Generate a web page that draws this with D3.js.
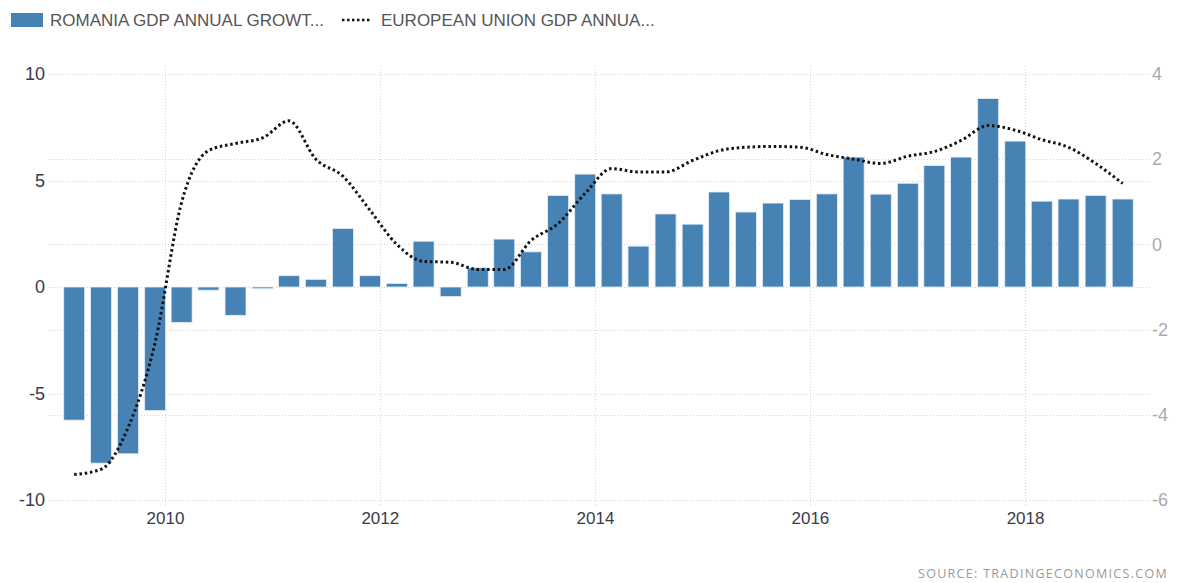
<!DOCTYPE html>
<html>
<head>
<meta charset="utf-8">
<script src="https://cdn.jsdelivr.net/npm/d3@7"></script>
<style>
  body { margin: 0; background: #fff; }
  svg { display: block; font-family: "Liberation Sans", Arial, sans-serif; }
</style>
</head>
<body>
<div id="chart"></div>
<script>
const width = 1178,
    height = 583;

// quarter end dates
const quarters = [
    "2009-03-31", "2009-06-30", "2009-09-30", "2009-12-31",
    "2010-03-31", "2010-06-30", "2010-09-30", "2010-12-31",
    "2011-03-31", "2011-06-30", "2011-09-30", "2011-12-31",
    "2012-03-31", "2012-06-30", "2012-09-30", "2012-12-31",
    "2013-03-31", "2013-06-30", "2013-09-30", "2013-12-31",
    "2014-03-31", "2014-06-30", "2014-09-30", "2014-12-31",
    "2015-03-31", "2015-06-30", "2015-09-30", "2015-12-31",
    "2016-03-31", "2016-06-30", "2016-09-30", "2016-12-31",
    "2017-03-31", "2017-06-30", "2017-09-30", "2017-12-31",
    "2018-03-31", "2018-06-30", "2018-09-30", "2018-12-31"
];

const romania = [
    -6.25, -8.27, -7.83, -5.8,
    -1.66, -0.15, -1.33, -0.08,
    0.53, 0.36, 2.75, 0.53,
    0.17, 2.15, -0.45, 0.9,
    2.25, 1.65, 4.3, 5.3,
    4.37, 1.92, 3.43, 2.95,
    4.46, 3.52, 3.94, 4.11,
    4.37, 6.1, 4.36, 4.87,
    5.7, 6.1, 8.85, 6.85,
    4.03, 4.13, 4.3, 4.13
];

const eu = [
    -5.4, -5.28, -4.3, -2.3,
    0.99, 2.2, 2.37, 2.5,
    2.9, 2.0, 1.6, 0.8,
    0.0, -0.4, -0.42, -0.59,
    -0.59, 0.09, 0.49, 1.2,
    1.78, 1.7, 1.7, 1.97,
    2.2, 2.28, 2.3, 2.28,
    2.11, 2.0, 1.9, 2.07,
    2.18, 2.44, 2.79, 2.68,
    2.46, 2.28, 1.9, 1.43
];

const leftTicks = [-10, -5, 0, 5, 10];
const rightTicks = [-6, -4, -2, 0, 2, 4];

const legendLabels = ["ROMANIA GDP ANNUAL GROWT...", "EUROPEAN UNION GDP ANNUA..."];
const sourceText = "SOURCE:  TRADINGECONOMICS.COM";

const parseDate = d3.timeParse("%Y-%m-%d");
const dates = quarters.map(parseDate);

const barColor = "#4682b4";
const barWidth = 21;

// plain hyphen for negatives, like the original
const plain = function(d) { return String(d) };

const x = d3.scaleTime()
    .domain([new Date(2009, 0, 1), new Date(2019, 0, 1)])
    .range([57.5, 1132.5]);

const yLeft = d3.scaleLinear()
    .domain([-10, 10])
    .range([500, 74]);

const yRight = d3.scaleLinear()
    .domain([-6, 4])
    .range([500, 74]);

const svg = d3.select("#chart")
    .append("svg")
    .attr("width", width)
    .attr("height", height);

// grid lines
const grid = svg.append("g")
    .attr("stroke", "#d4d4d4")
    .attr("stroke-width", 1)
    .attr("stroke-dasharray", "1,2");

grid.selectAll(null)
    .data(leftTicks)
    .join("line")
    .attr("x1", 48)
    .attr("x2", 1150)
    .attr("y1", function(d) { return Math.round(yLeft(d)) + 0.5 })
    .attr("y2", function(d) { return Math.round(yLeft(d)) + 0.5 });

grid.selectAll(null)
    .data(rightTicks)
    .join("line")
    .attr("x1", 48)
    .attr("x2", 1150)
    .attr("y1", function(d) { return Math.round(yRight(d)) + 0.5 })
    .attr("y2", function(d) { return Math.round(yRight(d)) + 0.5 });

const yearTicks = x.ticks(d3.timeYear.every(2));

grid.selectAll(null)
    .data(yearTicks)
    .join("line")
    .attr("x1", function(d) { return Math.round(x(d)) + 0.5 })
    .attr("x2", function(d) { return Math.round(x(d)) + 0.5 })
    .attr("y1", 66)
    .attr("y2", 506);

// bars
svg.append("g")
    .selectAll(null)
    .data(romania)
    .join("rect")
    .attr("x", function(d, i) { return x(dates[i]) + 1 - barWidth })
    .attr("width", barWidth)
    .attr("y", function(d) { return yLeft(Math.max(0, d)) })
    .attr("height", function(d) { return Math.abs(yLeft(d) - yLeft(0)) })
    .attr("fill", barColor)
    .attr("stroke", "#e6eef6")
    .attr("stroke-width", 0.8);

// EU line
const line = d3.line()
    .x(function(d, i) { return x(dates[i]) + 1 - barWidth / 2 })
    .y(function(d) { return yRight(d) })
    .curve(d3.curveMonotoneX);

svg.append("path")
    .datum(eu)
    .attr("d", line)
    .attr("fill", "none")
    .attr("stroke", "#111")
    .attr("stroke-width", 3)
    .attr("stroke-dasharray", "2.5,2.8");

// left axis
svg.append("g")
    .attr("transform", "translate(45,0)")
    .call(d3.axisLeft(yLeft).tickValues(leftTicks).tickFormat(plain).tickSize(0).tickPadding(0))
    .call(function(g) { g.select(".domain").remove() })
    .selectAll("text")
    .attr("font-size", 18)
    .attr("font-family", "Liberation Sans, Arial, sans-serif")
    .attr("fill", "#3a3a4a");

// right axis
svg.append("g")
    .attr("transform", "translate(1152,0)")
    .call(d3.axisRight(yRight).tickValues(rightTicks).tickFormat(plain).tickSize(0).tickPadding(0))
    .call(function(g) { g.select(".domain").remove() })
    .selectAll("text")
    .attr("font-size", 18)
    .attr("font-family", "Liberation Sans, Arial, sans-serif")
    .attr("fill", "#aaaaaa");

// x axis
svg.append("g")
    .attr("transform", "translate(0,512)")
    .call(d3.axisBottom(x).tickValues(yearTicks).tickFormat(d3.timeFormat("%Y")).tickSize(0).tickPadding(0))
    .call(function(g) { g.select(".domain").remove() })
    .selectAll("text")
    .attr("font-size", 17)
    .attr("font-family", "Liberation Sans, Arial, sans-serif")
    .attr("fill", "#3a3a4a");

// legend
const legend = svg.append("g");

legend.append("rect")
    .attr("x", 11)
    .attr("y", 13)
    .attr("width", 32)
    .attr("height", 14)
    .attr("fill", barColor);

legend.append("text")
    .attr("x", 50)
    .attr("y", 26)
    .attr("font-size", 17)
    .attr("fill", "#555")
    .text(legendLabels[0]);

legend.append("line")
    .attr("x1", 342)
    .attr("x2", 372)
    .attr("y1", 20)
    .attr("y2", 20)
    .attr("stroke", "#111")
    .attr("stroke-width", 2.5)
    .attr("stroke-dasharray", "2.5,2.5");

legend.append("text")
    .attr("x", 381)
    .attr("y", 26)
    .attr("font-size", 17)
    .attr("fill", "#555")
    .text(legendLabels[1]);

// source
svg.append("text")
    .attr("x", 1168)
    .attr("y", 578)
    .attr("text-anchor", "end")
    .attr("font-family", "Open Sans, sans-serif")
    .attr("font-size", 12.5)
    .attr("letter-spacing", 1.3)
    .attr("fill", "#999")
    .text(sourceText);
</script>
</body>
</html>
